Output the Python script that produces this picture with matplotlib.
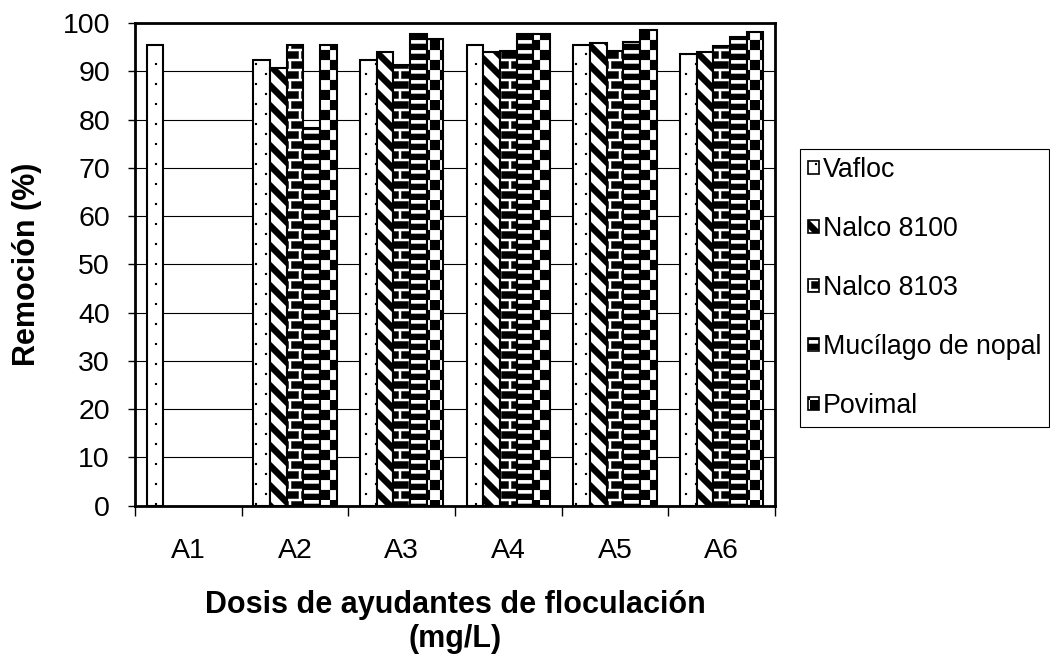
import numpy as np
import matplotlib
matplotlib.use("Agg")
import matplotlib.pyplot as plt
import matplotlib.hatch as mhatch
from matplotlib.path import Path
from matplotlib.patches import Patch

# data
categories = ["A1", "A2", "A3", "A4", "A5", "A6"]
series_names = ["Vafloc", "Nalco 8100", "Nalco 8103", "Mucílago de nopal", "Povimal"]
vafloc = [95.4, 92.4, 92.4, 95.4, 95.4, 93.5]
nalco_8100 = [np.nan, 90.6, 93.9, 93.9, 95.9, 93.9]
nalco_8103 = [np.nan, 95.4, 91.2, 94.2, 94.2, 95.2]
mucilago = [np.nan, 78.3, 97.7, 97.8, 96.1, 97.0]
povimal = [np.nan, 95.4, 96.6, 97.7, 98.6, 98.2]
yticks = np.arange(0, 101, 10)


# Excel-like fill patterns, built as filled polygons inside the hatch unit cell
class ExcelPattern(mhatch.HatchPatternBase):
    def __init__(self, hatch, density):
        p = 0.2  # repeat period (unit cell = 1 inch)
        polys = []
        if "." in hatch:
            # sparse staggered dots
            s = 0.02
            for i in range(5):
                for j in range(5):
                    for dx, dy in [(0.25, 0.25), (0.75, 0.75)]:
                        x0, y0 = (i + dx) * p, (j + dy) * p
                        polys.append([(x0, y0), (x0 + s, y0), (x0 + s, y0 + s), (x0, y0 + s)])
        if "\\" in hatch:
            # thick descending diagonal stripes
            t = 0.45 * p
            for k in range(-1, 12):
                c = k * p
                polys.append([(-0.1, c + 0.1), (1.1, c - 1.1), (1.1, c - 1.1 + t), (-0.1, c + 0.1 + t)])
        if "+" in hatch:
            # bricks
            m = 0.13 * p
            for i in range(-1, 6):
                for j in range(5):
                    y0 = j * p
                    x0 = i * p
                    polys.append([(x0 + m / 2, y0 + m / 2), (x0 + p - m / 2, y0 + m / 2),
                                  (x0 + p - m / 2, y0 + p / 2 - m / 2), (x0 + m / 2, y0 + p / 2 - m / 2)])
                    x1 = x0 + p / 2
                    polys.append([(x1 + m / 2, y0 + p / 2 + m / 2), (x1 + p - m / 2, y0 + p / 2 + m / 2),
                                  (x1 + p - m / 2, y0 + p - m / 2), (x1 + m / 2, y0 + p - m / 2)])
        if "-" in hatch:
            # horizontal stripes
            h = p / 2
            for j in range(10):
                y0 = j * h
                polys.append([(0, y0), (1, y0), (1, y0 + 0.62 * h), (0, y0 + 0.62 * h)])
        if "x" in hatch:
            # checkerboard
            h = p / 2
            for i in range(10):
                for j in range(10):
                    if (i + j) % 2 == 0:
                        polys.append([(i * h, j * h), ((i + 1) * h, j * h),
                                      ((i + 1) * h, (j + 1) * h), (i * h, (j + 1) * h)])
        self.polys = polys
        self.num_vertices = sum(len(q) + 1 for q in polys)

    def set_vertices_and_codes(self, vertices, codes):
        n = 0
        for q in self.polys:
            k = len(q)
            vertices[n:n + k] = q
            vertices[n + k] = q[0]
            codes[n] = Path.MOVETO
            codes[n + 1:n + k] = Path.LINETO
            codes[n + k] = Path.CLOSEPOLY
            n += k + 1


mhatch._hatch_types = [ExcelPattern]

plt.rcParams["font.family"] = ["Liberation Sans", "DejaVu Sans"]
plt.rcParams["hatch.linewidth"] = 0.1

fig = plt.figure(figsize=(10.5, 6.6), dpi=100)
ax = fig.add_axes([135 / 1050, 1 - 505.7 / 660, 640 / 1050, 482.7 / 660])

values = [vafloc, nalco_8100, nalco_8103, mucilago, povimal]
hatches = [".", "\\", "+", "-", "x"]
x = np.arange(len(categories))
width = 0.156

handles = []
for i, (vals, hatch, name) in enumerate(zip(values, hatches, series_names)):
    ax.bar(x + (i - 2) * width, vals, width, color="white", edgecolor="black",
           linewidth=1.5, hatch=hatch, zorder=3)
    handles.append(Patch(facecolor="white", edgecolor="black", linewidth=1.2, hatch=hatch, label=name))

# axes look
ax.set_xlim(-0.5, len(categories) - 0.5)
ax.set_ylim(0, 100)
ax.set_yticks(yticks)
ax.set_xticks(np.arange(-0.5, len(categories), 1.0))
ax.set_xticklabels([])
ax.set_xticks(x, minor=True)
ax.set_xticklabels(categories, minor=True)
ax.tick_params(axis="x", which="major", length=7, width=1, direction="out")
ax.tick_params(axis="x", which="minor", length=0, pad=23, labelsize=20.5)
ax.tick_params(axis="y", length=5, width=1, direction="out", pad=13, labelsize=20.5)
ax.yaxis.grid(True, color="black", linewidth=0.8)
ax.set_axisbelow(True)
for sp in ax.spines.values():
    sp.set_linewidth(2)
    sp.set_color("black")

ax.set_ylabel("Remoción (%)", fontsize=22, fontweight="bold")
ax.yaxis.set_label_coords(-0.145, 0.5)
ax.set_xlabel("Dosis de ayudantes de floculación\n(mg/L)", fontsize=22, fontweight="bold",
              linespacing=1.15)
ax.xaxis.set_label_coords(0.5, -0.175)

leg = fig.legend(handles=handles, loc="center left", bbox_to_anchor=(800 / 1050, 1 - 288 / 660),
                 fontsize=19.3, frameon=True, fancybox=False, framealpha=1, edgecolor="black",
                 handlelength=0.4, handleheight=0.4, handletextpad=0.15, labelspacing=1.23,
                 borderpad=0.3, borderaxespad=0)
leg.get_frame().set_linewidth(0.8)

fig.savefig("out.png", dpi=100)
